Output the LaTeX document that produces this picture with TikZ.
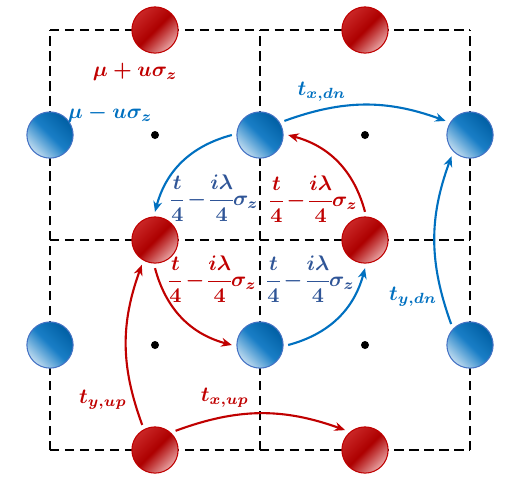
\documentclass[tikz,border=0pt]{standalone}
\usepackage{amsmath,amssymb}
\usepackage{tikz}
\usetikzlibrary{arrows.meta}
\usepackage{xcolor}
\definecolor{latred}{RGB}{192,0,0}
\definecolor{latblue}{RGB}{0,112,192}
\definecolor{latnavy}{RGB}{47,85,151}
\definecolor{latedge}{RGB}{68,114,196}
\newcommand{\hopsoc}{$\nulldelimiterspace=0pt\medmuskip=3mu\dfrac{t}{4}-\dfrac{i\lambda}{4}\sigma_z$}

\begin{document}
\begin{tikzpicture}[x=3.5cm,y=3.5cm,>=Stealth,
    gridline/.style={black,line width=0.9pt,dash pattern=on 4.5pt off 2.6pt},
    redsite/.style={circle,draw=latred,line width=0.5pt,minimum size=0.77cm,inner sep=0pt,outer sep=2.4pt,
        top color=latred!85!white,bottom color=latred!35!white,middle color=latred!90!black,shading angle=45},
    bluesite/.style={circle,draw=latedge,line width=0.5pt,minimum size=0.77cm,inner sep=0pt,outer sep=2.4pt,
        top color=latblue!85!black,bottom color=latblue!25!white,middle color=latblue!90!white,shading angle=-45},
    redhop/.style={-{Stealth[length=5pt,width=4.2pt]},latred,line width=1pt},
    bluehop/.style={-{Stealth[length=5pt,width=4.2pt]},latblue,line width=1pt},
    redlbl/.style={latred,font=\fontsize{10}{12}\selectfont\boldmath},
    bluelbl/.style={latblue,font=\fontsize{10}{12}\selectfont\boldmath},
    redsoc/.style={latred,inner sep=1pt,font=\fontsize{10}{12}\selectfont\boldmath},
    navysoc/.style={latnavy,inner sep=1pt,font=\fontsize{10}{12}\selectfont\boldmath}]
    \useasboundingbox (-0.2381,-0.1714) rectangle (2.2762,2.1429);

    % Lattice
    \foreach \k in {0,1,2} {
        \draw[gridline] (\k,0) -- (\k,2);
        \draw[gridline] (0,\k) -- (2,\k);
    }

    % Plaquette centres
    \foreach \x/\y in {0.5/1.5,1.5/1.5,0.5/0.5,1.5/0.5}
        \fill (\x,\y) circle (1.9pt);

    % Red sites
    \node[redsite] (rt1) at (0.5,2) {};
    \node[redsite] (rt2) at (1.5,2) {};
    \node[redsite] (rm1) at (0.5,1) {};
    \node[redsite] (rm2) at (1.5,1) {};
    \node[redsite] (rb1) at (0.5,0) {};
    \node[redsite] (rb2) at (1.5,0) {};

    % Blue sites
    \node[bluesite] (bt1) at (0,1.5) {};
    \node[bluesite] (bt2) at (1,1.5) {};
    \node[bluesite] (bt3) at (2,1.5) {};
    \node[bluesite] (bb1) at (0,0.5) {};
    \node[bluesite] (bb2) at (1,0.5) {};
    \node[bluesite] (bb3) at (2,0.5) {};

    % Hopping round the centre
    \draw[bluehop] (bt2.west) to[bend right=30] (rm1.north);
    \draw[redhop] (rm1.south) to[bend right=30] (bb2.west);
    \draw[bluehop] (bb2.east) to[bend right=30] (rm2.south);
    \draw[redhop] (rm2.north) to[bend right=30] (bt2.east);

    % Hopping between cells
    \draw[bluehop] (bt2.30) to[bend left=20] (bt3.150);
    \draw[bluehop] (bb3.132) to[bend left=20] (bt3.229);
    \draw[redhop] (rb1.117) to[bend left=20] (rm1.242);
    \draw[redhop] (rb1.43) to[bend left=20] (rb2.135);

    % Labels
    \node[redlbl] (onsitea) at (0.405,1.8) {$\mu+u\sigma_z$};
    \node[bluelbl] (onsiteb) at (0.286,1.6) {$\mu-u\sigma_z$};
    \node[bluelbl] (txdn) at (1.295,1.705) {$t_{x,dn}$};
    \node[navysoc] (soca) at (0.785,1.2) {\hopsoc};
    \node[redsoc] (socb) at (1.257,1.195) {\hopsoc};
    \node[redsoc] (socc) at (0.776,0.814) {\hopsoc};
    \node[navysoc] (socd) at (1.243,0.814) {\hopsoc};
    \node[bluelbl] (tydn) at (1.729,0.729) {$t_{y,dn}$};
    \node[redlbl] (tyup) at (0.252,0.238) {$t_{y,up}$};
    \node[redlbl] (txup) at (0.833,0.248) {$t_{x,up}$};
\end{tikzpicture}
\end{document}
